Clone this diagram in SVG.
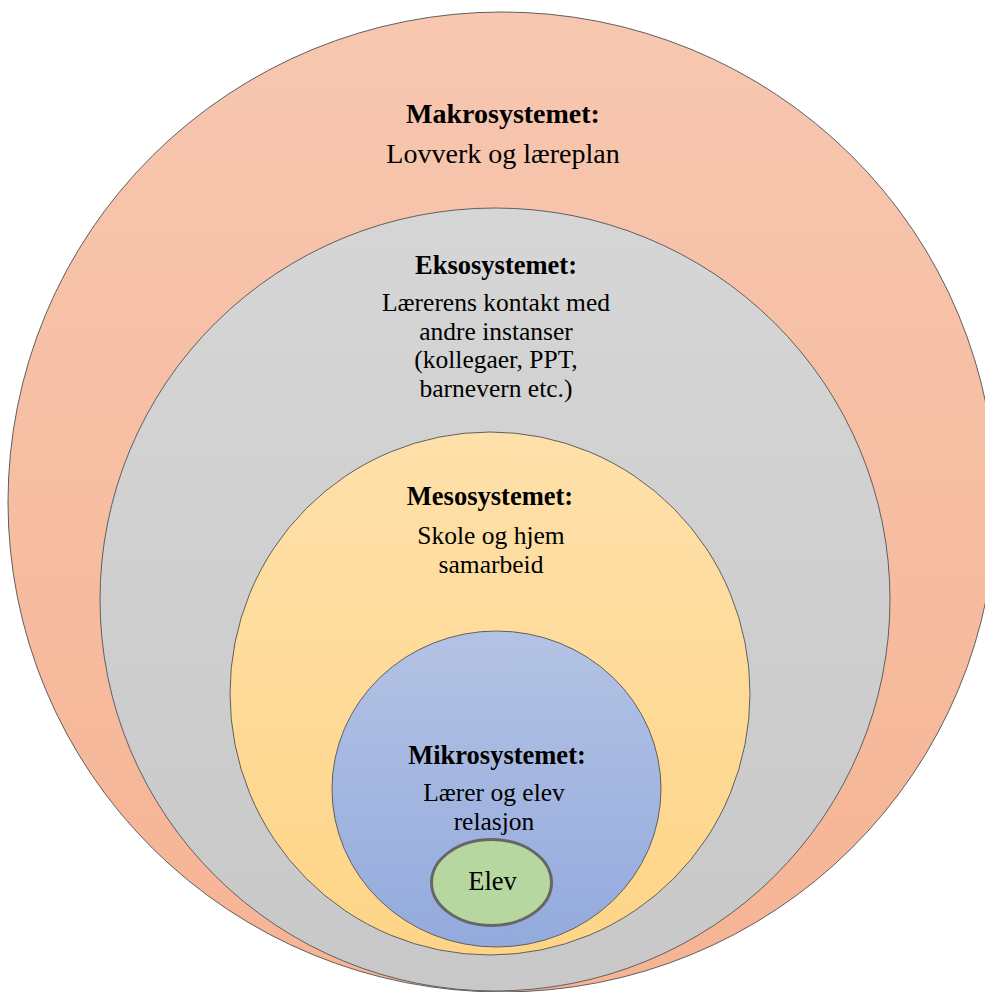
<svg xmlns="http://www.w3.org/2000/svg" width="985" height="992" viewBox="0 0 985 992">
  <defs>
    <linearGradient id="gMakro" x1="0" y1="0" x2="0" y2="1">
      <stop offset="0" stop-color="#F7C7B0"/>
      <stop offset="1" stop-color="#F6B494"/>
    </linearGradient>
    <linearGradient id="gEkso" x1="0" y1="0" x2="0" y2="1">
      <stop offset="0" stop-color="#D6D6D6"/>
      <stop offset="1" stop-color="#C8C8C8"/>
    </linearGradient>
    <linearGradient id="gMeso" x1="0" y1="0" x2="0" y2="1">
      <stop offset="0" stop-color="#FEE0AA"/>
      <stop offset="1" stop-color="#FED587"/>
    </linearGradient>
    <linearGradient id="gMikro" x1="0" y1="0" x2="0" y2="1">
      <stop offset="0" stop-color="#B4C3E4"/>
      <stop offset="1" stop-color="#93AADD"/>
    </linearGradient>
  </defs>
  <style>
    .ring { stroke: #5f5f5f; stroke-width: 1; }
    .t { font-family: "Liberation Serif", "Times New Roman", serif; font-size: 25.5px; fill: #000; text-anchor: middle; }
    .h { font-weight: bold; font-size: 26.5px; }
  </style>
  <rect width="985" height="992" fill="#FFFFFF"/>
  <g id="makrosystemet">
    <ellipse class="ring" cx="502" cy="502" rx="494" ry="490" fill="url(#gMakro)"/>
    <text class="t h" x="503" y="123" style="font-size:28px">Makrosystemet:</text>
    <text class="t" x="503" y="163" style="font-size:28px">Lovverk og læreplan</text>
  </g>
  <g id="eksosystemet">
    <ellipse class="ring" cx="495" cy="599.5" rx="395" ry="391.5" fill="url(#gEkso)"/>
    <text class="t h" x="496" y="274">Eksosystemet:</text>
    <text class="t" x="496" y="311">Lærerens kontakt med</text>
    <text class="t" x="496" y="339.5">andre instanser</text>
    <text class="t" x="496" y="368">(kollegaer, PPT,</text>
    <text class="t" x="496" y="396.5">barnevern etc.)</text>
  </g>
  <g id="mesosystemet">
    <ellipse class="ring" cx="490" cy="693.5" rx="260" ry="261.5" fill="url(#gMeso)"/>
    <text class="t h" x="490" y="505">Mesosystemet:</text>
    <text class="t" x="491" y="544">Skole og hjem</text>
    <text class="t" x="491" y="572.5">samarbeid</text>
  </g>
  <g id="mikrosystemet">
    <ellipse class="ring" cx="496.5" cy="789" rx="164.5" ry="158" fill="url(#gMikro)"/>
    <text class="t h" x="497" y="764">Mikrosystemet:</text>
    <text class="t" x="494" y="801">Lærer og elev</text>
    <text class="t" x="494" y="829.5">relasjon</text>
  </g>
  <g id="elev">
    <ellipse cx="491.5" cy="882.5" rx="60" ry="43" fill="#B6D7A0" stroke="#666666" stroke-width="3"/>
    <text class="t" x="492.5" y="890" style="font-size:26.5px">Elev</text>
  </g>
  <g id="connectors"/>
</svg>
